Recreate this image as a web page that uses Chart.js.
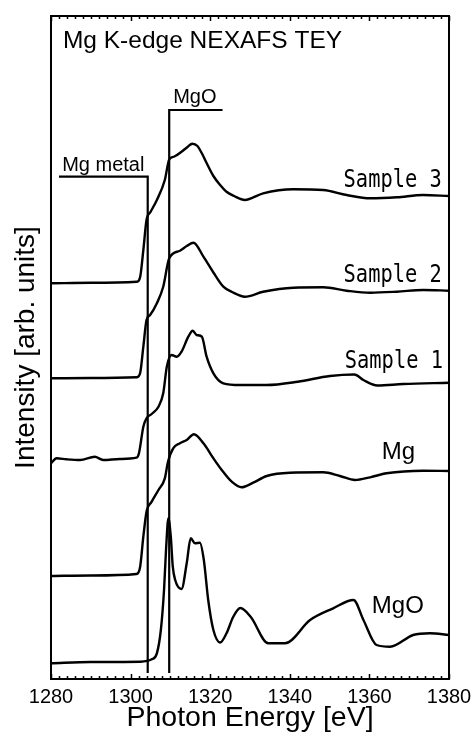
<!DOCTYPE html>
<html>
<head>
<meta charset="utf-8">
<script src="https://cdn.jsdelivr.net/npm/chart.js@4"></script>
<style>
  html, body { margin: 0; padding: 0; background: #fff; }
  canvas { display: block; }
</style>
</head>
<body>
<canvas id="nexafs" width="472" height="735"></canvas>
<script>
// Mg K-edge NEXAFS (TEY), spectra offset vertically, intensity in arb. units
var sample3E = [1280, 1290, 1301.6, 1302.4, 1303.2, 1304.0, 1305.0, 1306.6, 1308.6, 1309.7, 1311.0, 1312.8, 1314.3, 1315.5, 1316.8, 1317.9, 1319.1, 1320.8, 1322.5, 1324.1, 1326.0, 1328.7, 1333.3, 1340.9, 1348.4, 1354.3, 1360.2, 1366.9, 1373.5, 1380];
var sample3I = [395.7, 396.2, 397.3, 402, 429, 459, 467, 479, 499, 519.5, 522.5, 527.3, 532, 535.3, 533, 525.7, 516, 503, 494, 487.3, 483, 479, 485.7, 489.7, 489, 484, 480.7, 481.7, 484, 483];

var sample2E = [1280, 1290, 1301.6, 1302.4, 1303.2, 1304.0, 1304.9, 1306.6, 1308.2, 1309.7, 1312.4, 1314.1, 1315.8, 1318.3, 1320.8, 1323.3, 1325.5, 1328.7, 1333.3, 1340.9, 1348.4, 1354.3, 1360.2, 1366.9, 1373.5, 1380];
var sample2I = [300.7, 301, 301.7, 306, 332.3, 359, 364, 375.7, 392.3, 420.7, 428.3, 433, 436.3, 422.3, 406.5, 392.3, 387, 382.3, 387.3, 391.3, 391.7, 388.3, 386.3, 387.3, 389, 388.3];

var sample1E = [1280, 1281.4, 1283.9, 1287.3, 1291, 1293.1, 1297.3, 1301.5, 1302.1, 1303.2, 1304.0, 1305.3, 1307, 1308.2, 1309.1, 1310.3, 1311.6, 1312.8, 1314.5, 1315.6, 1316.6, 1317.9, 1319.1, 1320.8, 1323.3, 1327.5, 1334.2, 1342, 1350.1, 1356.2, 1358.5, 1362, 1368.5, 1380];
var sample1I = [215.7, 220.7, 219.7, 219, 222.3, 219, 220, 221.3, 225.7, 252.3, 260.7, 265, 272.3, 285.7, 312.3, 324, 322.3, 327.3, 342.3, 348.3, 344, 342.3, 322.3, 305.7, 295.7, 294, 294, 297.3, 303, 304.5, 299, 293.5, 295, 296.3];

var mgE = [1280, 1290, 1301.5, 1302.4, 1303.2, 1304.0, 1305.3, 1307, 1308.6, 1309.4, 1310.7, 1312.4, 1314.1, 1315.9, 1318.3, 1320.8, 1322.9, 1325.4, 1327.9, 1330.8, 1334.2, 1340, 1348.4, 1352.6, 1356.4, 1360.2, 1364.3, 1373.5, 1380];
var mgI = [103, 103.5, 105, 112.3, 142.3, 167.3, 177.3, 189, 200.7, 217.3, 230.7, 235.7, 239, 244.7, 235.7, 220.7, 209, 197.3, 191.7, 196.3, 203, 206.3, 206.7, 203, 199, 201.7, 205.7, 208.3, 208];

var mgoE = [1280, 1290, 1302.4, 1305.3, 1306.6, 1307.6, 1308.4, 1308.9, 1309.5, 1310.1, 1310.6, 1311.2, 1312.8, 1314.1, 1315.1, 1316.2, 1317.4, 1318.4, 1319.5, 1320.8, 1322.5, 1324.1, 1325.8, 1327.6, 1330.2, 1334.6, 1338.8, 1345.1, 1350.9, 1356, 1358.5, 1361.8, 1365.2, 1371, 1375.2, 1380];
var mgoI = [15.7, 17, 17.3, 19.7, 25.7, 49, 89, 129, 160.7, 142.3, 112.3, 99, 90, 115.7, 140.7, 135.7, 136.3, 119, 79, 49, 36.5, 45.7, 62.3, 71, 62, 35.7, 35.7, 59, 70.7, 79, 59, 34, 32.3, 44, 45.7, 44];

// reference edge markers
var metalMarkE = [1282, 1304.3, 1304.3];
var metalMarkI = [502.3, 502.3, 6];
var oxideMarkE = [1323.1, 1309.7, 1309.7];
var oxideMarkI = [569, 569, 6];

var xTicks = [1280, 1300, 1320, 1340, 1360, 1380];

function pts(xs, ys) {
    var out = [];
    for (var i = 0; i < xs.length; ++i) out.push({x: xs[i], y: ys[i]});
    return out;
}

function spectrum(label, xs, ys) {
    return {
        label: label,
        data: pts(xs, ys),
        borderColor: '#000',
        borderWidth: 2.4,
        pointRadius: 0,
        fill: false,
        cubicInterpolationMode: 'monotone'
    };
}

function marker(label, xs, ys) {
    return {
        label: label,
        data: pts(xs, ys),
        borderColor: '#000',
        borderWidth: 2.2,
        pointRadius: 0,
        fill: false,
        tension: 0,
        borderJoinStyle: 'miter'
    };
}

var SANS = "'Liberation Sans', Arial, sans-serif";
var NARROW = "'Liberation Sans Narrow', 'Liberation Sans', Arial, sans-serif";
var MONO = "'DejaVu Sans Mono', monospace";

// text placed in data coordinates; sx squeezes glyphs horizontally
var notes = [
    {text: 'Mg K-edge NEXAFS TEY', e: 1283.0, v: 631, font: '24.5px ' + SANS, align: 'left', sx: 1},
    {text: 'Mg metal', e: 1282.8, v: 508, font: '20px ' + SANS, align: 'left', sx: 1},
    {text: 'MgO', e: 1310.7, v: 576, font: '20px ' + SANS, align: 'left', sx: 1},
    {text: 'Sample 3', e: 1378.2, v: 492, font: '24px ' + MONO, align: 'right', sx: 0.85},
    {text: 'Sample 2', e: 1378.2, v: 397, font: '24px ' + MONO, align: 'right', sx: 0.85},
    {text: 'Sample 1', e: 1378.5, v: 311, font: '24px ' + MONO, align: 'right', sx: 0.85},
    {text: 'Mg', e: 1363.1, v: 220, font: '24px ' + SANS, align: 'left', sx: 1},
    {text: 'MgO', e: 1360.6, v: 66, font: '24px ' + SANS, align: 'left', sx: 1}
];

var frame = {
    id: 'frame',
    afterDatasetsDraw: function(chart) {
        var ctx = chart.ctx, a = chart.chartArea;
        var x = chart.scales.x, y = chart.scales.y;
        ctx.save();
        ctx.strokeStyle = '#000';
        ctx.lineWidth = 2;
        ctx.strokeRect(a.left, a.top, a.right - a.left, a.bottom - a.top);

        // inward ticks on top and bottom, minor every 2 eV
        ctx.lineWidth = 1.5;
        ctx.beginPath();
        for (var e = 1280; e <= 1380; e += 2) {
            var px = Math.round(x.getPixelForValue(e)) + 0.5;
            var len = (e % 20 === 0) ? 5 : 3;
            ctx.moveTo(px, a.bottom);
            ctx.lineTo(px, a.bottom - len);
            ctx.moveTo(px, a.top);
            ctx.lineTo(px, a.top + len);
        }
        ctx.stroke();

        ctx.fillStyle = '#000';
        ctx.textBaseline = 'alphabetic';
        notes.forEach(function(n) {
            ctx.save();
            ctx.font = n.font;
            ctx.textAlign = n.align;
            ctx.translate(x.getPixelForValue(n.e), y.getPixelForValue(n.v));
            ctx.scale(n.sx, 1);
            ctx.fillText(n.text, 0, 0);
            ctx.restore();
        });
        ctx.restore();
    }
};

new Chart(document.getElementById('nexafs'), {
    type: 'line',
    data: {
        datasets: [
            spectrum('Sample 3', sample3E, sample3I),
            spectrum('Sample 2', sample2E, sample2I),
            spectrum('Sample 1', sample1E, sample1I),
            spectrum('Mg', mgE, mgI),
            spectrum('MgO', mgoE, mgoI),
            marker('Mg metal', metalMarkE, metalMarkI),
            marker('MgO edge', oxideMarkE, oxideMarkI)
        ]
    },
    options: {
        responsive: false,
        animation: false,
        devicePixelRatio: 1,
        layout: { padding: { top: 16, right: 23, left: 0, bottom: 0 } },
        plugins: {
            legend: { display: false },
            tooltip: { enabled: false }
        },
        scales: {
            x: {
                type: 'linear',
                min: 1280,
                max: 1380,
                afterBuildTicks: function(s) {
                    s.ticks = xTicks.map(function(v) { return {value: v}; });
                },
                ticks: {
                    autoSkip: false,
                    maxRotation: 0,
                    color: '#000',
                    padding: 6,
                    font: { family: NARROW, size: 20 },
                    callback: function(v) { return String(v); }
                },
                grid: { display: false, drawTicks: false },
                border: { display: false },
                title: {
                    display: true,
                    text: 'Photon Energy [eV]',
                    color: '#000',
                    padding: 0,
                    font: { family: SANS, size: 28.5 }
                },
                afterFit: function(s) {
                    s.height = 56;
                    s.paddingLeft = 0;
                    s.paddingRight = 0;
                }
            },
            y: {
                min: 0,
                max: 663,
                ticks: { display: false },
                grid: { display: false, drawTicks: false },
                border: { display: false },
                title: {
                    display: true,
                    text: 'Intensity [arb. units]',
                    color: '#000',
                    padding: { top: 9, bottom: 0 },
                    font: { family: SANS, size: 28 }
                },
                afterFit: function(s) { s.width = 51; }
            }
        }
    },
    plugins: [frame]
});
</script>
</body>
</html>
